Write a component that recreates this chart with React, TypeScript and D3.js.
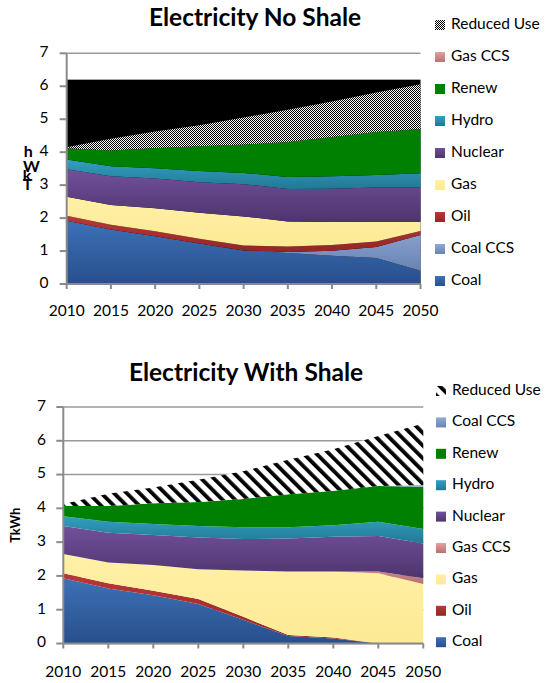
import React from "react";
import * as d3 from "d3";

// ---------- data ----------
const years = [2010, 2015, 2020, 2025, 2030, 2035, 2040, 2045, 2050];
const yTicks = [0, 1, 2, 3, 4, 5, 6, 7];

// Electricity No Shale (TkWh)
const nsCoal = [1.92, 1.65, 1.45, 1.23, 1.02, 0.94, 0.86, 0.79, 0.4];
const nsCoalCCS = [0, 0, 0, 0, 0, 0.03, 0.15, 0.33, 1.09];
const nsOil = [0.15, 0.15, 0.15, 0.14, 0.15, 0.17, 0.17, 0.17, 0.12];
const nsGas = [0.58, 0.6, 0.7, 0.79, 0.88, 0.76, 0.7, 0.6, 0.28];
const nsNuclear = [0.83, 0.87, 0.9, 0.93, 0.98, 0.98, 1.01, 1.04, 1.04];
const nsHydro = [0.3, 0.3, 0.31, 0.34, 0.34, 0.37, 0.38, 0.38, 0.43];
const nsRenew = [0.34, 0.48, 0.62, 0.75, 0.86, 1.06, 1.19, 1.3, 1.34];
const nsGasCCS = [0, 0, 0, 0, 0, 0, 0, 0, 0];
const nsReduced = [0.03, 0.36, 0.5, 0.64, 0.82, 0.98, 1.08, 1.2, 1.36];
const nsCeiling = 6.2;

// Electricity With Shale (TkWh)
const wsCoal = [1.93, 1.63, 1.43, 1.17, 0.7, 0.22, 0.15, 0, 0];
const wsOil = [0.15, 0.15, 0.13, 0.15, 0.09, 0.03, 0.03, 0, 0];
const wsGas = [0.57, 0.62, 0.76, 0.88, 1.37, 1.88, 1.95, 2.08, 1.76];
const wsGasCCS = [0, 0, 0, 0, 0, 0, 0, 0.05, 0.17];
const wsNuclear = [0.83, 0.88, 0.89, 0.94, 0.93, 0.98, 1.03, 1.05, 1.03];
const wsHydro = [0.29, 0.32, 0.33, 0.34, 0.35, 0.33, 0.34, 0.42, 0.43];
const wsRenew = [0.3, 0.47, 0.61, 0.71, 0.84, 0.98, 1.02, 1.06, 1.25];
const wsCoalCCS = [0, 0, 0, 0, 0, 0, 0, 0, 0.05];
const wsReduced = [0.06, 0.36, 0.47, 0.66, 0.82, 1.02, 1.23, 1.48, 1.82];

// ---------- styles ----------
const FONT = "Lato, 'Open Sans', 'DejaVu Sans', sans-serif";
const GRAD: Record<string, [string, string]> = {
  "Coal": ["#3D71B8", "#284F8C"],
  "Coal CCS": ["#93ABD8", "#6882B2"],
  "Oil": ["#BA3838", "#922626"],
  "Gas": ["#FFF0A6", "#FDEA96"],
  "Gas CCS": ["#E2A3A1", "#B57170"],
  "Nuclear": ["#72509B", "#4D346E"],
  "Hydro": ["#31A0C0", "#227894"],
  "Renew": ["#008000", "#008000"],
};

type Series = { name: string; values: number[] };
type Layout = {
  top: number;
  x0: number;
  x1: number;
  yb: number;
  yt: number;
  titleX: number;
  titleY: number;
  tickLabelX: number;
  xLabelY: number;
  legendX: number;
  legendY0: number;
  legendStep: number;
};

function Chart(props: {
  id: string;
  title: string;
  series: Series[]; // bottom -> top
  legend: string[]; // top -> bottom
  reducedKind: "checker" | "stripes";
  ceiling?: number;
  layout: Layout;
  axisLabel: "stacked" | "rotated";
}) {
  const { id, title, series, legend, reducedKind, ceiling, layout: L, axisLabel } = props;
  const x = d3.scaleLinear().domain([2010, 2050]).range([L.x0, L.x1]);
  const y = d3.scaleLinear().domain([0, 7]).range([L.yb, L.yt]);
  const keys = series.map((s) => s.name);
  const table = years.map((yr, i) => {
    const row: any = { year: yr };
    series.forEach((s) => (row[s.name] = s.values[i]));
    return row;
  });
  const stacked = d3.stack<any>().keys(keys)(table);
  const area = d3
    .area<any>()
    .x((d) => x(d.data.year))
    .y0((d) => y(d[0]))
    .y1((d) => y(d[1]));
  const fillOf = (name: string) =>
    name === "Reduced Use" ? `url(#${id}-${reducedKind})` : `url(#${id}-g-${name.replace(/\s/g, "")})`;

  return (
    <g>
      <defs>
        {Object.entries(GRAD).map(([k, [a, b]]) => (
          <linearGradient key={k} id={`${id}-g-${k.replace(/\s/g, "")}`} x1="0" y1="0" x2="0" y2="1">
            <stop offset="0" stopColor={a} />
            <stop offset="1" stopColor={b} />
          </linearGradient>
        ))}
        <pattern id={`${id}-checker`} width={2} height={2} patternUnits="userSpaceOnUse">
          <rect width={2} height={2} fill="#ffffff" />
          <rect x={0} y={0} width={1} height={1} fill="#000" />
          <rect x={1} y={1} width={1} height={1} fill="#000" />
        </pattern>
        <pattern
          id={`${id}-stripes`}
          width={9}
          height={9}
          patternUnits="userSpaceOnUse"
          patternTransform="rotate(-45)"
        >
          <rect width={9} height={9} fill="#ffffff" />
          <rect x={0} y={0} width={3.8} height={9} fill="#000" />
        </pattern>
      </defs>

      {/* title */}
      <text x={L.titleX} y={L.titleY} textAnchor="middle" dominantBaseline="middle"
        fontFamily={FONT} fontWeight={700} fontSize={24.5} fill="#000">
        {title}
      </text>

      {/* gridlines */}
      {yTicks.map((t) => (
        <line key={t} x1={L.x0} x2={L.x1} y1={y(t)} y2={y(t)} stroke="#9a9a9a" strokeWidth={1.5} />
      ))}

      {ceiling !== undefined && (
        <rect x={L.x0} y={y(ceiling)} width={L.x1 - L.x0} height={y(0) - y(ceiling)} fill="#000" />
      )}

      {/* stacked areas */}
      {stacked.map((layer) => (
        <path key={layer.key} d={area(layer) || ""} fill={fillOf(layer.key as string)} />
      ))}

      {/* axes */}
      <line x1={L.x0} x2={L.x0} y1={y(0) + 1} y2={y(7)} stroke="#8a8a8a" strokeWidth={2} />
      <line x1={L.x0} x2={L.x1} y1={y(0)} y2={y(0)} stroke="#8a8a8a" strokeWidth={2} />
      {yTicks.map((t) => (
        <g key={t}>
          <line x1={L.x0 - 7} x2={L.x0} y1={y(t)} y2={y(t)} stroke="#8a8a8a" strokeWidth={2} />
          <text x={L.tickLabelX} y={y(t)} textAnchor="end" dominantBaseline="middle"
            fontFamily={FONT} fontSize={15.5} fill="#000">{t}</text>
        </g>
      ))}
      {years.map((yr) => (
        <g key={yr}>
          <line x1={x(yr)} x2={x(yr)} y1={y(0)} y2={y(0) + 5} stroke="#8a8a8a" strokeWidth={2} />
          <text x={x(yr)} y={L.xLabelY} textAnchor="middle" dominantBaseline="middle"
            fontFamily={FONT} fontSize={15.5} fill="#000">{yr}</text>
        </g>
      ))}

      {/* axis label */}
      {axisLabel === "rotated" ? (
        <text transform={`translate(17,${(y(0) + y(7)) / 2 + 0}) rotate(-90)`} textAnchor="middle"
          dominantBaseline="middle" fontFamily={FONT} fontWeight={700} fontSize={13} fill="#000">
          TkWh
        </text>
      ) : (
        <g fontFamily={FONT} fontWeight={700} fontSize={16} fill="#000" textAnchor="middle">
          <text x={28.3} y={L.top + 157}>h</text>
          <text x={31.5} y={L.top + 172}>W</text>
          <text x={27} y={L.top + 181}>k</text>
          <text x={27.5} y={L.top + 190}>T</text>
        </g>
      )}

      {/* legend */}
      {legend.map((name, i) => {
        const cy = L.legendY0 + i * L.legendStep;
        return (
          <g key={name}>
            <rect x={L.legendX} y={cy - 5} width={10} height={10} fill={fillOf(name)} />
            <text x={L.legendX + 16} y={cy} dominantBaseline="middle" fontFamily={FONT}
              fontSize={15.5} fill="#000">{name}</text>
          </g>
        );
      })}
    </g>
  );
}

export default function App() {
  const noShale: Series[] = [
    { name: "Coal", values: nsCoal },
    { name: "Coal CCS", values: nsCoalCCS },
    { name: "Oil", values: nsOil },
    { name: "Gas", values: nsGas },
    { name: "Nuclear", values: nsNuclear },
    { name: "Hydro", values: nsHydro },
    { name: "Renew", values: nsRenew },
    { name: "Gas CCS", values: nsGasCCS },
    { name: "Reduced Use", values: nsReduced },
  ];
  const withShale: Series[] = [
    { name: "Coal", values: wsCoal },
    { name: "Oil", values: wsOil },
    { name: "Gas", values: wsGas },
    { name: "Gas CCS", values: wsGasCCS },
    { name: "Nuclear", values: wsNuclear },
    { name: "Hydro", values: wsHydro },
    { name: "Renew", values: wsRenew },
    { name: "Coal CCS", values: wsCoalCCS },
    { name: "Reduced Use", values: wsReduced },
  ];
  return (
    <svg width={548} height={683} style={{ position: "absolute", left: 0, top: 0, background: "#fff" }}>
      <rect width={548} height={683} fill="#fff" />
      <Chart
        id="ns"
        title="Electricity No Shale"
        series={noShale}
        legend={[...noShale].reverse().map((s) => s.name)}
        reducedKind="checker"
        ceiling={nsCeiling}
        axisLabel="stacked"
        layout={{
          top: 0, x0: 66.7, x1: 420.5, yb: 284, yt: 53.3,
          titleX: 255, titleY: 20, tickLabelX: 48.5, xLabelY: 312,
          legendX: 435, legendY0: 25, legendStep: 32,
        }}
      />
      <Chart
        id="ws"
        title="Electricity With Shale"
        series={withShale}
        legend={[...withShale].reverse().map((s) => s.name)}
        reducedKind="stripes"
        axisLabel="rotated"
        layout={{
          top: 355, x0: 63.3, x1: 423.3, yb: 643.5, yt: 407,
          titleX: 246, titleY: 375, tickLabelX: 46, xLabelY: 673,
          legendX: 436, legendY0: 391, legendStep: 31.4,
        }}
      />
    </svg>
  );
}
